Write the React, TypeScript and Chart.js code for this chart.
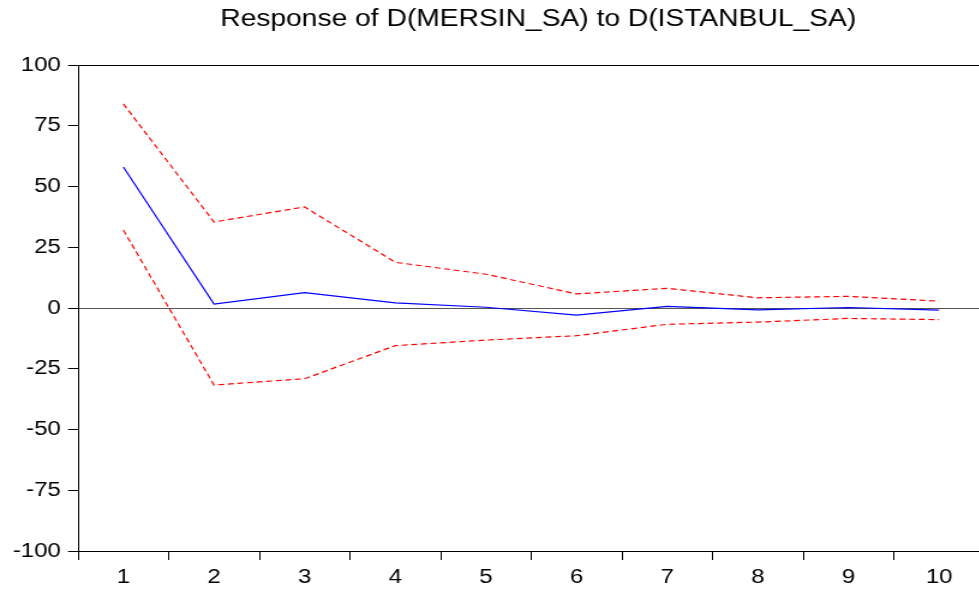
import React, { useEffect, useRef } from "react";
import { Chart, registerables } from "chart.js";

Chart.register(...registerables);

const periods = ["1", "2", "3", "4", "5", "6", "7", "8", "9", "10"];
const response = [58.0, 1.6, 6.3, 2.1, 0.3, -2.9, 0.7, -0.8, 0.2, -0.9];
const upperBand = [84.0, 35.4, 41.6, 18.8, 13.9, 5.8, 8.1, 4.2, 4.8, 2.8];
const lowerBand = [32.1, -31.7, -29.1, -15.5, -13.2, -11.4, -6.7, -5.8, -4.3, -4.8];
const yTickValues = [-100, -75, -50, -25, 0, 25, 50, 75, 100];
const chartTitle = "Response of D(MERSIN_SA) to D(ISTANBUL_SA)";

const STRETCH = 1.2;
const LOGICAL_W = 828;
const H = 596;
const FONT = '"Liberation Sans", Arial, Helvetica, sans-serif';

const titlePlugin = {
  id: "eviewsTitle",
  afterDraw(chart: any) {
    const ctx = chart.ctx;
    ctx.save();
    ctx.font = `23.5px ${FONT}`;
    ctx.fillStyle = "#000";
    ctx.textAlign = "center";
    ctx.textBaseline = "alphabetic";
    ctx.fillText(chartTitle, 538 / STRETCH, 26);
    ctx.restore();
  },
};

export default function App() {
  const ref = useRef<HTMLCanvasElement | null>(null);

  useEffect(() => {
    if (!ref.current) return;
    const chart = new Chart(ref.current, {
      type: "line",
      data: {
        labels: periods,
        datasets: [
          {
            label: "Response",
            data: response,
            borderColor: "#0000FF",
            borderWidth: 1.2,
            pointRadius: 0,
            tension: 0,
            fill: false,
          },
          {
            label: "Upper",
            data: upperBand,
            borderColor: "#FF0000",
            borderWidth: 1.2,
            borderDash: [5, 3],
            pointRadius: 0,
            tension: 0,
            fill: false,
          },
          {
            label: "Lower",
            data: lowerBand,
            borderColor: "#FF0000",
            borderWidth: 1.2,
            borderDash: [5, 3],
            pointRadius: 0,
            tension: 0,
            fill: false,
          },
        ],
      },
      options: {
        animation: false,
        responsive: false,
        devicePixelRatio: 1,
        events: [],
        layout: { padding: { top: 65, right: 8, left: 0, bottom: 0 } },
        plugins: {
          legend: { display: false },
          tooltip: { enabled: false },
          title: { display: false },
        },
        scales: {
          x: {
            type: "category",
            offset: true,
            afterFit(scale: any) {
              scale.height = 45;
            },
            grid: {
              offset: true,
              drawOnChartArea: false,
              drawTicks: true,
              tickLength: 9,
              tickColor: "#000",
              color: "#000",
              tickWidth: 1,
            },
            border: { display: true, color: "#000", width: 1 },
            ticks: {
              color: "#000",
              font: { family: FONT, size: 20 },
              padding: 5,
              maxRotation: 0,
              autoSkip: false,
            },
          },
          y: {
            min: -100,
            max: 100,
            afterFit(scale: any) {
              scale.width = 65;
            },
            afterBuildTicks(scale: any) {
              scale.ticks = yTickValues.map((v) => ({ value: v }));
            },
            grid: {
              drawOnChartArea: true,
              drawTicks: true,
              tickLength: 8.3,
              tickColor: "#000",
              tickWidth: 1,
              lineWidth: 1,
              color: (c: any) => {
                const v = c.tick ? c.tick.value : null;
                if (v === 0) return "#555555";
                if (v === 100) return "#000000";
                return "rgba(0,0,0,0)";
              },
            },
            border: { display: true, color: "#000", width: 1 },
            ticks: {
              color: "#000",
              font: { family: FONT, size: 20 },
              padding: 6,
              callback: (v: any) => String(v),
            },
          },
        },
      },
      plugins: [titlePlugin],
    });
    return () => chart.destroy();
  }, []);

  return (
    <div
      style={{
        position: "fixed",
        left: 0,
        top: 0,
        width: 979,
        height: H,
        overflow: "hidden",
        background: "#fff",
      }}
    >
      <canvas
        ref={ref}
        width={LOGICAL_W}
        height={H}
        style={{ width: `${LOGICAL_W * STRETCH}px`, height: `${H}px`, display: "block" }}
      />
    </div>
  );
}
